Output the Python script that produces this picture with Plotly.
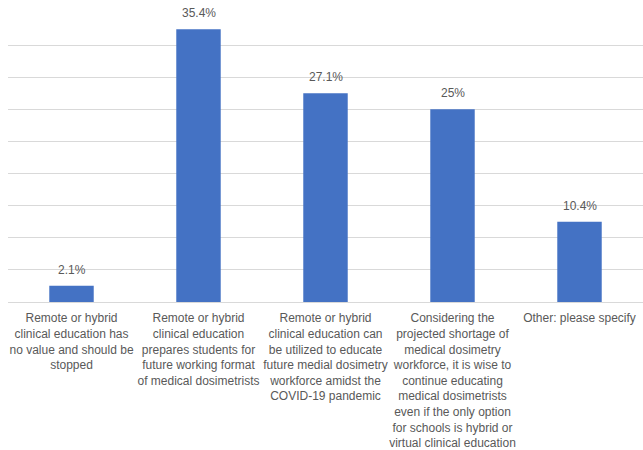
import plotly.graph_objects as go

categories = [
    "Remote or hybrid<br>clinical education has<br>no value and should be<br>stopped",
    "Remote or hybrid<br>clinical education<br>prepares students for<br>future working format<br>of medical dosimetrists",
    "Remote or hybrid<br>clinical education can<br>be utilized to educate<br>future medial dosimetry<br>workforce amidst the<br>COVID-19 pandemic",
    "Considering the<br>projected shortage of<br>medical dosimetry<br>workforce, it is wise to<br>continue educating<br>medical dosimetrists<br>even if the only option<br>for schools is hybrid or<br>virtual clinical education",
    "Other: please specify",
]
values = [2.1, 35.4, 27.1, 25, 10.4]
labels = ["2.1%", "35.4%", "27.1%", "25%", "10.4%"]

fig = go.Figure(go.Bar(
    x=categories,
    y=values,
    marker=dict(color="#4472C4", line=dict(width=0)),
))

for c, v, t in zip(categories, values, labels):
    fig.add_annotation(
        x=c, y=v, text=t, showarrow=False,
        yanchor="bottom", yshift=7,
        font=dict(family="Liberation Sans", size=12, color="#595959"),
    )

fig.update_layout(
    width=643, height=450,
    margin=dict(l=8, r=0, t=13, b=148),
    paper_bgcolor="white", plot_bgcolor="white",
    bargap=0.65,
    showlegend=False,
    font=dict(family="Liberation Sans", size=12, color="#595959"),
)
fig.update_xaxes(
    showline=True, linecolor="#d9d9d9", linewidth=1,
    ticks="", tickfont=dict(size=12, color="#595959"),
    tickangle=0, automargin=False, ticklabelstandoff=5,
)
fig.update_yaxes(
    range=[0, 37.5], dtick=37.5 / 9, tick0=0,
    showgrid=True, gridcolor="#d9d9d9", gridwidth=1,
    showticklabels=False, zeroline=False, automargin=False,
)

fig.write_html("out.html")
